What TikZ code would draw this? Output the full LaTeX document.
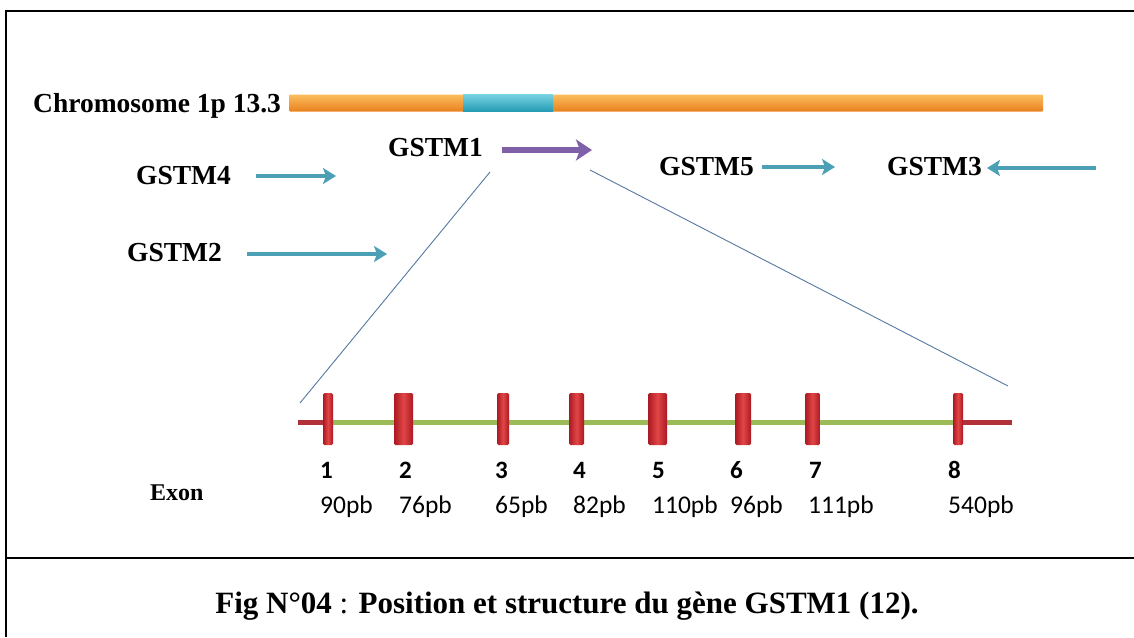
\documentclass[tikz,border=0pt]{standalone}
\usepackage{fontspec}
\setmainfont{Liberation Serif}
\newfontfamily\calibfont{Carlito}
\usetikzlibrary{arrows.meta}
\definecolor{orangeA}{RGB}{252,190,95}
\definecolor{orangeB}{RGB}{232,128,28}
\definecolor{cyanA}{RGB}{120,210,225}
\definecolor{cyanB}{RGB}{35,155,180}
\definecolor{arrowcyan}{RGB}{75,160,182}
\definecolor{arrowpurple}{RGB}{128,96,168}
\definecolor{exonred}{RGB}{170,25,35}
\definecolor{exonlight}{RGB}{225,70,70}
\definecolor{introngreen}{RGB}{155,187,89}
\definecolor{zoomline}{RGB}{85,120,160}
\begin{document}
\begin{tikzpicture}[x=1pt,y=-1pt,
  serifbig/.style={font=\bfseries\fontsize{27.5}{30}\selectfont, inner sep=0pt},
  genelabel/.style={serifbig, anchor=west},
  genearrow/.style={draw=arrowcyan, line width=4.2pt, -{Stealth[length=13pt,width=16pt,inset=3pt]}},
  mainarrow/.style={draw=arrowpurple, line width=6pt, -{Stealth[length=16pt,width=21pt,inset=4pt]}},
  barseg/.style={inner sep=0pt, minimum height=17pt, rounded corners=1pt},
  exon/.style={inner sep=0pt, minimum height=52pt, rounded corners=1.5pt,
     left color=exonred, right color=exonred, middle color=exonlight},
  stub/.style={draw=exonred!90!white, line width=5pt},
  intron/.style={draw=introngreen, line width=5pt},
  zoomln/.style={draw=zoomline, line width=0.9pt},
  exnum/.style={font=\calibfont\bfseries\fontsize{25}{28}\selectfont, inner sep=0pt, anchor=base west},
  exsize/.style={font=\calibfont\fontsize{25.5}{28}\selectfont, inner sep=0pt, anchor=base west},
  framel/.style={draw=black, line width=1.6pt}
]
\useasboundingbox (0,0) rectangle (1134,637);
% frame
\coordinate (fbl) at (6,637);
\coordinate (ftl) at (6,11);
\coordinate (ftr) at (1134,11);
\coordinate (fml) at (6,558);
\coordinate (fmr) at (1134,558);
\draw[framel] (fbl) -- (ftl) -- (ftr);
\draw[framel] (fml) -- (fmr);

% chromosome
\node[serifbig, anchor=base west] (chromlabel) at (33,112) {Chromosome 1p 13.3};
\node[barseg, top color=orangeA, bottom color=orangeB, minimum width=754pt] (chrom) at (666,103) {};
\node[barseg, rounded corners=0pt, top color=cyanA, bottom color=cyanB, minimum width=90pt] (locus) at (508,103) {};

% genes
\node[genelabel] (g4) at (136,176) {GSTM4};
\node[genelabel] (g1) at (388,148) {GSTM1};
\node[genelabel] (g5) at (659,167) {GSTM5};
\node[genelabel] (g3) at (887,167) {GSTM3};
\node[genelabel] (g2) at (127,253) {GSTM2};

\coordinate (a4s) at (256,176); \coordinate (a4e) at (336,176);
\coordinate (a2s) at (247,254); \coordinate (a2e) at (387,254);
\coordinate (a5s) at (762,167); \coordinate (a5e) at (835,167);
\coordinate (a3s) at (1096,168); \coordinate (a3e) at (987,168);
\coordinate (a1s) at (502,150); \coordinate (a1e) at (592,150);
\draw[genearrow] (a4s) -- (a4e);
\draw[genearrow] (a2s) -- (a2e);
\draw[genearrow] (a5s) -- (a5e);
\draw[genearrow] (a3s) -- (a3e);
\draw[mainarrow] (a1s) -- (a1e);

% zoom lines
\coordinate (zl1) at (490,172); \coordinate (zl2) at (300,403);
\coordinate (zr1) at (590,170); \coordinate (zr2) at (1008,386);
\draw[zoomln] (zl1) -- (zl2);
\draw[zoomln] (zr1) -- (zr2);

% gene structure
\coordinate (e1c) at (328,419);
\coordinate (e8c) at (958,419);
\draw[intron] ([yshift=-3pt]e1c) -- ([yshift=-3pt]e8c);
\coordinate (stubL) at (298,422);
\coordinate (stubR) at (1012,422);
\draw[stub] (stubL) -- ([yshift=-3pt]e1c);
\draw[stub] ([yshift=-3pt]e8c) -- (stubR);
\node[exon, minimum width=10pt] (e1) at (e1c) {};
\node[exon, minimum width=19pt] (e2) at (403.5,419) {};
\node[exon, minimum width=12pt] (e3) at (503,419) {};
\node[exon, minimum width=15pt] (e4) at (576.5,419) {};
\node[exon, minimum width=19pt] (e5) at (657.5,419) {};
\node[exon, minimum width=16pt] (e6) at (743,419) {};
\node[exon, minimum width=15pt] (e7) at (812.5,419) {};
\node[exon, minimum width=10pt] (e8) at (e8c) {};

% labels
\node[serifbig, font=\bfseries\fontsize{24}{26}\selectfont, anchor=base west] (exonlabel) at (150,500) {Exon};
\node[exnum] (n1) at (320,478) {1};
\node[exnum] (n2) at (399,478) {2};
\node[exnum] (n3) at (495,478) {3};
\node[exnum] (n4) at (573,478) {4};
\node[exnum] (n5) at (652,478) {5};
\node[exnum] (n6) at (730,478) {6};
\node[exnum] (n7) at (809,478) {7};
\node[exnum] (n8) at (948,478) {8};
\node[exsize] (s1) at (320,513) {90pb};
\node[exsize] (s2) at (399,513) {76pb};
\node[exsize] (s3) at (495,513) {65pb};
\node[exsize] (s4) at (573,513) {82pb};
\node[exsize] (s5) at (652,513) {110pb};
\node[exsize] (s6) at (730,513) {96pb};
\node[exsize] (s7) at (808,513) {111pb};
\node[exsize] (s8) at (948,513) {540pb};

% caption
\node[inner sep=0pt, anchor=base, font=\fontsize{31}{34}\selectfont] (caption) at (567,613)
  {\textbf{Fig N°04} : \textbf{Position et structure du gène GSTM1 (12).}};
\end{tikzpicture}
\end{document}
